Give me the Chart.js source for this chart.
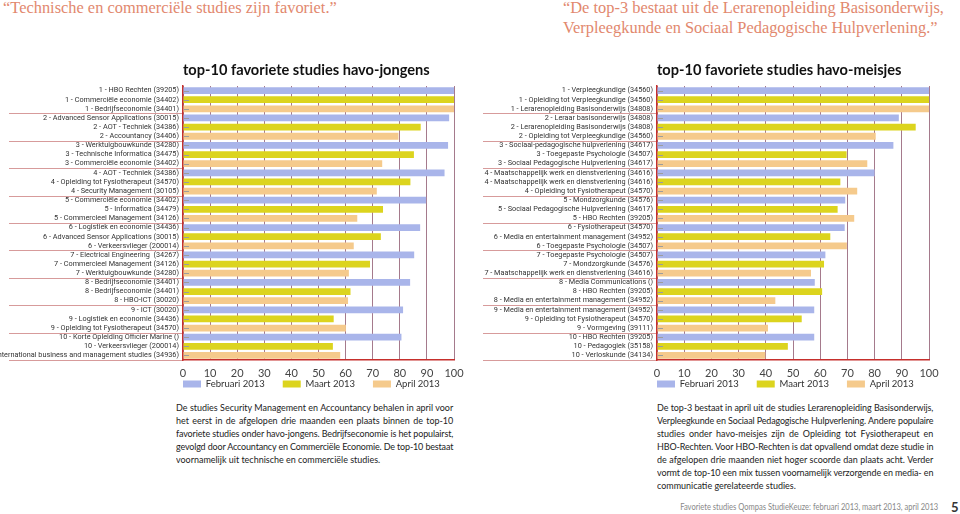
<!DOCTYPE html>
<html><head><meta charset="utf-8">
<script src="https://cdn.jsdelivr.net/npm/chart.js@4.4.1/dist/chart.umd.min.js"></script>
<style>
body{margin:0;width:960px;height:514px;background:#fff;position:relative;overflow:hidden;font-family:Lato,sans-serif}
.q{position:absolute;color:#e2886e;font-family:'Liberation Serif',serif;font-size:16.4px;line-height:20px;white-space:nowrap}
canvas{position:absolute}
.para{position:absolute;font-size:10.2px;line-height:13px;color:#222;transform:scaleX(0.88);transform-origin:0 0}
.para div{text-align:justify;text-align-last:justify}
.para div.last{text-align:left;text-align-last:left}
.foot{position:absolute;color:#888;font-size:8.6px;white-space:nowrap;transform:scaleX(0.88);transform-origin:100% 0}
</style></head><body>
<div class="q" style="left:3px;top:-2px">“Technische en commerciële studies zijn favoriet.”</div>
<div class="q" style="left:563px;top:-2px">“De top-3 bestaat uit de Lerarenopleiding Basisonderwijs,<br>Verpleegkunde en Sociaal Pedagogische Hulpverlening.”</div>
<canvas id="c1" width="470" height="345" style="left:0;top:55px"></canvas>
<canvas id="c2" width="465" height="345" style="left:480px;top:55px"></canvas>
<div class="para" id="p1" style="left:176px;top:401px;width:315px"></div>
<div class="para" id="p2" style="left:657px;top:401px;width:314px"></div>
<div class="foot" style="right:22px;top:502px">Favoriete studies Qompas StudieKeuze: februari 2013, maart 2013, april 2013</div>
<div class="foot" style="left:951px;top:499px;color:#333;font-weight:bold;font-size:13px;transform:none">5</div>
<script>
const months = ['Februari 2013', 'Maart 2013', 'April 2013'];

const boysFebNames = ['HBO Rechten (39205)', 'Advanced Sensor Applications (30015)', 'Werktuigbouwkunde (34280)', 'AOT - Techniek (34386)', 'Commerciële economie (34402)', 'Logistiek en economie (34436)', 'Electrical Engineering  (34267)', 'Bedrijfseconomie (34401)', 'ICT (30020)', 'Korte Opleiding Officier Marine ()'];
const boysFebValues = [100, 98.2, 97.8, 96.5, 89.7, 87.5, 85.3, 83.8, 81.2, 80.6];
const boysMarNames = ['Commerciële economie (34402)', 'AOT - Techniek (34386)', 'Technische Informatica (34475)', 'Opleiding tot Fysiotherapeut (34570)', 'Informatica (34479)', 'Advanced Sensor Applications (30015)', 'Commercieel Management (34126)', 'Bedrijfseconomie (34401)', 'Logistiek en economie (34436)', 'Verkeersvlieger (200014)'];
const boysMarValues = [100, 87.7, 85.2, 83.9, 73.8, 73.0, 69.0, 61.8, 55.6, 55.3];
const boysAprNames = ['Bedrijfseconomie (34401)', 'Accountancy (34406)', 'Commerciële economie (34402)', 'Security Management (30105)', 'Commercieel Management (34126)', 'Verkeersvlieger (200014)', 'Werktuigbouwkunde (34280)', 'HBO-ICT (30020)', 'Opleiding tot Fysiotherapeut (34570)', 'International business and management studies (34936)'];
const boysAprValues = [100, 79.5, 73.5, 71.5, 64.3, 63.0, 61.2, 60.9, 60.1, 58.0];

const girlsFebNames = ['Verpleegkundige (34560)', 'Leraar basisonderwijs (34808)', 'Sociaal-pedagogische hulpverlening (34617)', 'Maatschappelijk werk en dienstverlening (34616)', 'Mondzorgkunde (34576)', 'Fysiotherapeut (34570)', 'Toegepaste Psychologie (34507)', 'Media Communications ()', 'Media en entertainment management (34952)', 'HBO Rechten (39205)'];
const girlsFebValues = [100, 88.9, 86.9, 80.0, 69.2, 69.0, 61.9, 58.0, 57.8, 57.8];
const girlsMarNames = ['Opleiding tot Verpleegkundige (34560)', 'Lerarenopleiding Basisonderwijs (34808)', 'Toegepaste Psychologie (34507)', 'Maatschappelijk werk en dienstverlening (34616)', 'Sociaal Pedagogische Hulpverlening (34617)', 'Media en entertainment management (34952)', 'Mondzorgkunde (34576)', 'HBO Rechten (39205)', 'Opleiding tot Fysiotherapeut (34570)', 'Pedagogiek (35158)'];
const girlsMarValues = [100, 95.1, 69.7, 67.4, 66.4, 63.7, 61.4, 60.7, 53.2, 48.1];
const girlsAprNames = ['Lerarenopleiding Basisonderwijs (34808)', 'Opleiding tot Verpleegkundige (34560)', 'Sociaal Pedagogische Hulpverlening (34617)', 'Opleiding tot Fysiotherapeut (34570)', 'HBO Rechten (39205)', 'Toegepaste Psychologie (34507)', 'Maatschappelijk werk en dienstverlening (34616)', 'Media en entertainment management (34952)', 'Vormgeving (39111)', 'Verloskunde (34134)'];
const girlsAprValues = [100, 80.4, 77.3, 73.6, 72.5, 69.8, 56.6, 43.5, 40.8, 39.8];

const xMin = 0, xMax = 100, xStep = 10;

const para1 = [
 'De studies Security Management en Accountancy behalen in april voor',
 'het eerst in de afgelopen drie maanden een plaats binnen de top-10',
 'favoriete studies onder havo-jongens. Bedrijfseconomie is het populairst,',
 'gevolgd door Accountancy en Commerciële Economie. De top-10 bestaat',
 'voornamelijk uit technische en commerciële studies.'];
const para2 = [
 'De top-3 bestaat in april uit de studies Lerarenopleiding Basisonderwijs,',
 'Verpleegkunde en Sociaal Pedagogische Hulpverlening. Andere populaire',
 'studies onder havo-meisjes zijn de Opleiding tot Fysiotherapeut en',
 'HBO-Rechten. Voor HBO-Rechten is dat opvallend omdat deze studie in',
 'de afgelopen drie maanden niet hoger scoorde dan plaats acht. Verder',
 'vormt de top-10 een mix tussen voornamelijk verzorgende en media- en',
 'communicatie gerelateerde studies.'];

function fillPara(id, lines){
  const el = document.getElementById(id);
  const w = parseFloat(el.style.width);
  lines.forEach((t, i) => {
    const d = document.createElement('div');
    if (i === lines.length - 1) d.className = 'last';
    const s = document.createElement('span');
    s.style.whiteSpace = 'nowrap';
    s.textContent = t;
    d.appendChild(s); el.appendChild(d);
    const nat = s.offsetWidth;
    if (nat > w - 1) d.style.letterSpacing = ((w - 1 - nat) / t.length) + 'px';
    d.textContent = t;
  });
}
fillPara('p1', para1); fillPara('p2', para2);

const COLORS = ['#a9b5ea', '#dcd41e', '#f5ca8c'];
const RED = '#c62f2c';
const GRID = '#a57a8c';
const SEP = '#d79b9b';

function buildRows(fN, fV, mN, mV, aN, aV){
  const labels = [], f = [], m = [], a = [];
  for (let i = 0; i < fN.length; i++){
    labels.push((i+1) + ' - ' + fN[i]); f.push(fV[i]); m.push(null); a.push(null);
    labels.push((i+1) + ' - ' + mN[i]); f.push(null); m.push(mV[i]); a.push(null);
    labels.push((i+1) + ' - ' + aN[i]); f.push(null); m.push(null); a.push(aV[i]);
  }
  return {labels, series: [f, m, a]};
}

const decor = {
  id: 'decor',
  afterLayout(chart, args, opts){
    const lg = chart.legend, ca = chart.chartArea;
    const pad = lg.options.labels.padding;
    const fs = lg.options.labels.font.size;
    const itemH = Math.max(fs, lg.options.labels.boxHeight);
    const dx = ca.left - pad - lg.left;
    lg.left += dx; lg.right += dx;
    const top = ca.bottom + opts.legendOffset - pad - itemH / 2;
    lg.top = top;
    lg.bottom = top + pad + itemH + 6;
    lg.height = lg.bottom - lg.top;
  },
  afterDraw(chart, args, opts){
    const {ctx, chartArea: ca} = chart;
    const y = chart.scales.y;
    const n = chart.data.labels.length;
    ctx.save();
    ctx.lineWidth = 1;
    ctx.strokeStyle = SEP;
    for (let k = 3; k <= n; k += 3){
      const py = Math.round(y.getPixelForValue(k - 0.5)) + 0.5;
      ctx.beginPath(); ctx.moveTo(opts.sepLeft, py); ctx.lineTo(ca.left - 1, py); ctx.stroke();
    }
    ctx.strokeStyle = '#9d9d9d';
    for (let i = 0; i < n; i++){
      const py = Math.round(y.getPixelForTick(i)) + 0.5;
      ctx.beginPath(); ctx.moveTo(ca.left + 1, py); ctx.lineTo(ca.left + 6, py); ctx.stroke();
    }
    ctx.restore();
  }
};

function makeChart(id, title, rows, axisWidth, sepLeft){
  return new Chart(document.getElementById(id), {
    type: 'bar',
    data: {
      labels: rows.labels,
      datasets: months.map((mo, i) => ({
        label: mo, data: rows.series[i], backgroundColor: COLORS[i],
        borderWidth: 0, grouped: false, barPercentage: 0.74, categoryPercentage: 1
      }))
    },
    options: {
      indexAxis: 'y', responsive: false, animation: false, devicePixelRatio: 1,
      layout: {padding: {left: 0, right: 14, top: 0, bottom: 0}},
      scales: {
        x: {
          min: xMin, max: xMax,
          ticks: {stepSize: xStep, padding: 6.4, color: '#444', font: {family: 'Lato', size: 11}},
          grid: {color: GRID, lineWidth: 1, drawTicks: false},
          border: {color: RED, width: 1.5},
          afterFit(s){ s.height = 20; }
        },
        y: {
          type: 'category', offset: true,
          ticks: {autoSkip: false, padding: 4, color: '#333', font: {family: 'Roboto', size: 7.3}},
          grid: {display: false, drawTicks: false},
          border: {color: RED, width: 1.5},
          afterFit(s){ s.width = axisWidth; s.paddingTop = 0; s.paddingBottom = 0; }
        }
      },
      plugins: {
        tooltip: {enabled: false},
        title: {display: true, text: title, align: 'start', fullSize: false, color: '#111',
          font: {family: 'Lato', size: 14.6, weight: 'bold'}, padding: {top: 6.3, bottom: 7.2}},
        legend: {position: 'bottom', align: 'start', maxHeight: 20,
          labels: {boxWidth: 18, boxHeight: 7, padding: 18, color: '#333', font: {family: 'Lato', size: 9.5}}},
        decor: {legendOffset: 24, sepLeft: sepLeft}
      }
    },
    plugins: [decor]
  });
}

makeChart('c1', 'top-10 favoriete studies havo-jongens',
  buildRows(boysFebNames, boysFebValues, boysMarNames, boysMarValues, boysAprNames, boysAprValues), 183, 9);
makeChart('c2', 'top-10 favoriete studies havo-meisjes',
  buildRows(girlsFebNames, girlsFebValues, girlsMarNames, girlsMarValues, girlsAprNames, girlsAprValues), 177, 3);
</script>
</body></html>
